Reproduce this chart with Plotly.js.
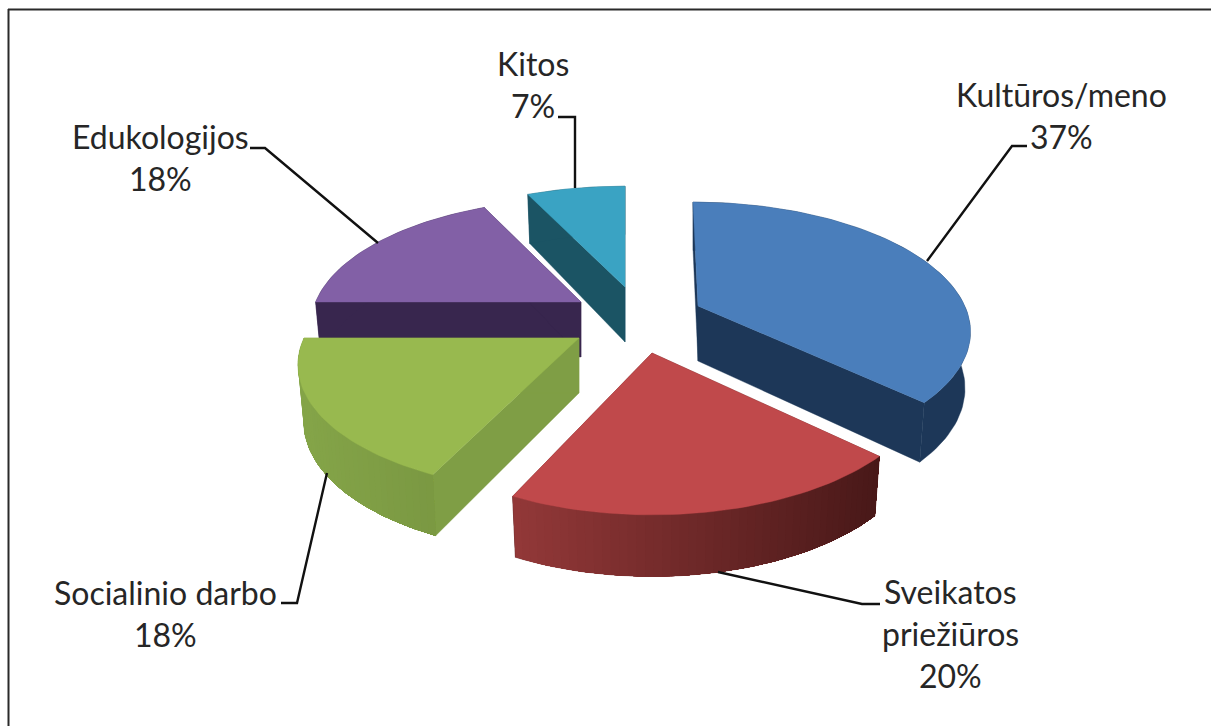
<!DOCTYPE html>
<html>
<head>
<meta charset="utf-8">
<script src="https://cdn.plot.ly/plotly-3.0.1.min.js"></script>
<style>html,body{margin:0;padding:0;background:#fff}#chart{width:1211px;height:726px}</style>
</head>
<body>
<div id="chart"></div>
<script>
// Study-field shares, in clockwise order from twelve o'clock
const categories = ["Kultūros/meno", "Sveikatos priežiūros", "Socialinio darbo", "Edukologijos", "Kitos"];
const shares = [37, 20, 18, 18, 7];
const categoryLines = [["Kultūros/meno"], ["Sveikatos", "priežiūros"], ["Socialinio darbo"], ["Edukologijos"], ["Kitos"]];

// Exploded position and slight per-slice scale of each slice
const sliceApex = [
  {x: 698, y: 306, sx: 0.97, sy: 1.01, lean: 5},
  {x: 652, y: 353, sx: 0.99, sy: 1.08, lean: 0},
  {x: 579, y: 338, sx: 1.0, sy: 1.03, lean: -6},
  {x: 581, y: 302, sx: 0.965, sy: 1.0, lean: 0},
  {x: 625, y: 287, sx: 0.97, sy: 0.98, lean: 0}
];
const topColors = ["#4a7ebb", "#c0494b", "#98b94f", "#8260a6", "#3aa3c3"];
const wallLeft = [[29, 55, 88], [146, 56, 56], [132, 164, 72], [56, 38, 78], [27, 84, 100]];
const wallRight = [[29, 55, 88], [72, 24, 24], [122, 152, 66], [56, 38, 78], [27, 84, 100]];

// Callout text anchors and their leader polylines
const labelAnchors = [{x: 1061, y: 94}, {x: 950, y: 591}, {x: 165, y: 592}, {x: 160, y: 136}, {x: 533, y: 63}];
const leaderX = [[1027, 1012, 927], [880, 862, 718], [281, 297, 327], [250, 265, 378], [558, 575, 575]];
const leaderY = [[146, 146, 261], [604, 604, 572], [603, 603, 473], [148, 148, 243], [117, 117, 188]];

// Tilted-disc projection: radius, foreshortening and perspective strength
const RX = 275, TILT = 122, PERSP = 0.186, WALL = 55, LINE_GAP = 42;

function project(deg, apex) {
  const a = deg * Math.PI / 180;
  const front = -Math.cos(a);
  const s = 1 / (1 - PERSP * front);
  const dx = RX * Math.sin(a) * s * apex.sx + apex.lean * front;
  const dy = TILT * front * s * apex.sy;
  return {dx, dy, front};
}
const topPoint = (deg, apex) => {
  const p = project(deg, apex);
  return [apex.x + p.dx, apex.y + p.dy];
};
const basePoint = (deg, apex) => {
  const p = project(deg, apex);
  return [apex.x + p.dx * 0.98, apex.y + p.dy + WALL * (1 + 0.12 * p.front)];
};

function polygon(points, color, stroke) {
  return {
    type: "scatter", mode: "lines", fill: "toself", fillcolor: color,
    x: points.map(p => p[0]).concat(points[0][0]),
    y: points.map(p => p[1]).concat(points[0][1]),
    line: {color: color, width: stroke}, hoverinfo: "skip", showlegend: false
  };
}
const rgb = c => `rgb(${c.map(Math.round).join(",")})`;
const mix = (a, b, t) => a.map((v, i) => v + (b[i] - v) * t);

// Slice angles accumulate from the shares
const total = shares.reduce((s, v) => s + v, 0);
let running = 0;
const spans = shares.map(v => {
  const start = running / total * 360;
  running += v;
  return [start, running / total * 360];
});

// One slice: two radial walls, the curved rim in overlapping shaded bands, then its top face
function sliceTraces(i) {
  const [a0, a1] = spans[i];
  const apex = sliceApex[i];
  const out = [];
  const apexTop = [apex.x, apex.y];
  const apexBase = [apex.x, apex.y + WALL];
  const solid = rgb(mix(wallLeft[i], wallRight[i], 0.5));
  out.push(polygon([apexTop, topPoint(a0, apex), basePoint(a0, apex), apexBase], solid, 0.4));
  out.push(polygon([apexTop, topPoint(a1, apex), basePoint(a1, apex), apexBase], solid, 0.4));
  const same = wallLeft[i].every((v, j) => v === wallRight[i][j]);
  const pts = [];
  const n = Math.round((a1 - a0) / 1.5);
  for (let k = 0; k <= n; k++) pts.push(a0 + (a1 - a0) * k / n);
  // Solid rim first, so no background shows between the shaded bands
  out.push(polygon(pts.map(d => topPoint(d, apex)).concat(pts.slice().reverse().map(d => basePoint(d, apex))), solid, 0.4));
  if (!same) {
    const leftX = Math.min(topPoint(a0, apex)[0], topPoint(a1, apex)[0]);
    const rightX = Math.max(topPoint(a0, apex)[0], topPoint(a1, apex)[0]);
    // Each band reaches from its start angle to the slice's far end; later bands repaint the rest
    const ordered = a0 + a1 > 360 || i === 1 ? pts.slice().reverse() : pts.slice();
    ordered.slice(0, -1).forEach((d, k) => {
      const rest = ordered.slice(k);
      const t = (topPoint(d, apex)[0] - leftX) / (rightX - leftX);
      out.push(polygon(rest.map(p => topPoint(p, apex)).concat(rest.slice().reverse().map(p => basePoint(p, apex))),
        rgb(mix(wallLeft[i], wallRight[i], Math.min(1, Math.max(0, t)))), 0));
    });
  }
  const face = [apexTop];
  pts.forEach(d => face.push(topPoint(d, apex)));
  out.push(polygon(face, topColors[i], 0.4));
  return out;
}

// Back slices are painted first so nearer ones overlap them
const paintOrder = [4, 3, 2, 0, 1];
const traces = [];
paintOrder.forEach(i => traces.push(...sliceTraces(i)));

categories.forEach((name, i) => {
  traces.push({
    type: "scatter", mode: "lines", x: leaderX[i], y: leaderY[i],
    line: {color: "#111", width: 2.4}, hoverinfo: "skip", showlegend: false, name: name
  });
});

// Callout labels: category lines followed by the percentage
const annotations = [];
categories.forEach((_, i) => {
  categoryLines[i].concat(shares[i] + "%").forEach((text, j) => {
    annotations.push({
      x: labelAnchors[i].x, y: labelAnchors[i].y + j * LINE_GAP, xref: "x", yref: "y",
      text: text, showarrow: false, xanchor: "center", yanchor: "middle",
      font: {family: "Lato, 'Open Sans', sans-serif", size: 32, color: "#262626"}
    });
  });
});

const hidden = {visible: false, fixedrange: true};
Plotly.newPlot("chart", traces, {
  width: 1211, height: 726,
  margin: {l: 0, r: 0, t: 0, b: 0},
  paper_bgcolor: "#fff", plot_bgcolor: "#fff",
  showlegend: false,
  xaxis: Object.assign({range: [0, 1211]}, hidden),
  yaxis: Object.assign({range: [726, 0]}, hidden),
  annotations: annotations,
  shapes: [
    {type: "line", xref: "x", yref: "y", x0: 8, x1: 1211, y0: 9.5, y1: 9.5, line: {color: "#2a2a2a", width: 2}},
    {type: "line", xref: "x", yref: "y", x0: 8.5, x1: 8.5, y0: 9, y1: 726, line: {color: "#2a2a2a", width: 2}}
  ]
}, {staticPlot: true, displayModeBar: false});
</script>
</body>
</html>
